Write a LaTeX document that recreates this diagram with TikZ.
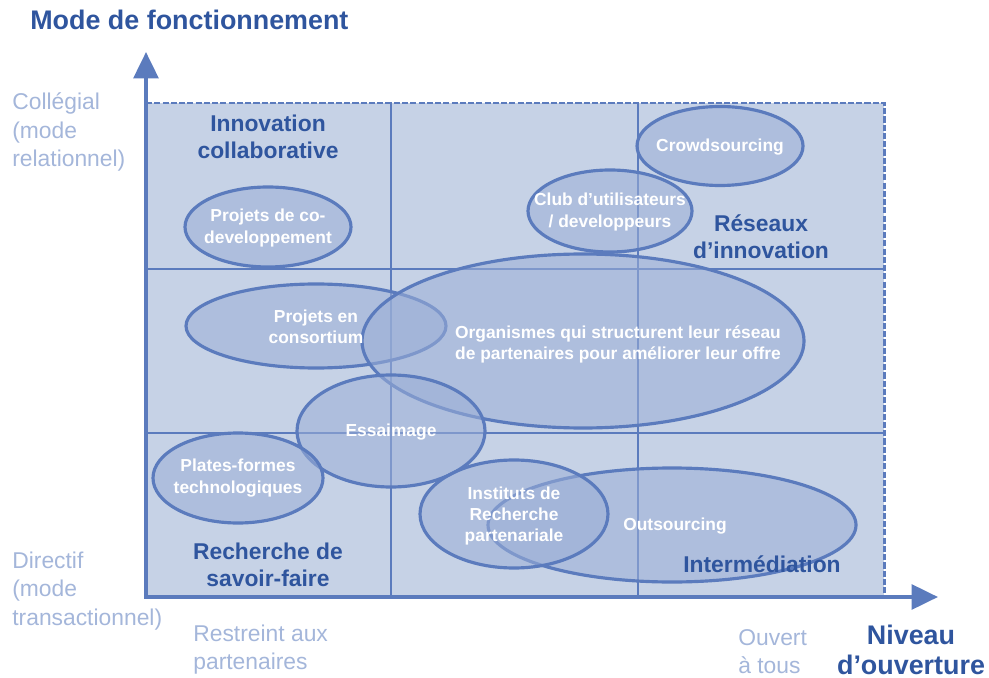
\documentclass[tikz,border=0pt]{standalone}
\usepackage{fontspec}
\setmainfont{Liberation Sans}
\usetikzlibrary{shapes.geometric,arrows.meta}
\definecolor{axeblue}{HTML}{5B7BBD}
\definecolor{darkblue}{HTML}{2F559E}
\definecolor{greyblue}{HTML}{A4B6DA}
\definecolor{cellfill}{HTML}{C6D2E6}
\definecolor{bubfill}{HTML}{9BAFD7}
\tikzset{axes/.style={draw=axeblue, line width=2.3pt, {Triangle[length=15pt,width=14pt]}-{Triangle[length=15pt,width=14pt]}}}
\tikzset{cell/.style={draw=axeblue, line width=0.9pt}}
\tikzset{border/.style={draw=axeblue, line width=1.7pt, dash pattern=on 3.5pt off 1.2pt}}
\tikzset{bubble/.style 2 args={ellipse, draw=axeblue, line width=1.8pt, fill=bubfill, fill opacity=0.55, minimum width=#1*0.02cm, minimum height=#2*0.02cm, inner sep=0pt}}
\tikzset{inside/.style={text=white, font=\fontsize{9.9}{12}\selectfont\bfseries, align=center}}
\tikzset{zone/.style={text=darkblue, font=\fontsize{13}{15.6}\selectfont\bfseries, align=center}}
\tikzset{hint/.style={text=greyblue, font=\fontsize{13}{16}\selectfont, align=left, anchor=west, inner sep=0pt}}
\tikzset{title/.style={text=darkblue, font=\fontsize{15.3}{17.5}\selectfont\bfseries, align=center}}
\begin{document}
\begin{tikzpicture}[x=0.02cm, y=-0.02cm]
\useasboundingbox (0,0) rectangle (989,678);
\coordinate (O) at (146,597);
\coordinate (NW) at (146,103);
\coordinate (NE) at (884,103);
\coordinate (SE) at (884,597);
\coordinate (ytip) at (146,52);
\coordinate (xtip) at (938,597);
\fill[cellfill] (O) rectangle (NE);
\draw[cell] (391,103) -- (391,597);
\draw[cell] (638,103) -- (638,597);
\draw[cell] (146,269) -- (884,269);
\draw[cell] (146,433) -- (884,433);
\draw[border] (NW) -- (NE) -- (SE);
\node[bubble={166}{80}] (codev) at (268,227) {};
\node[bubble={166}{79}] (crowd) at (720,146) {};
\node[bubble={164}{82}] (club) at (610,211) {};
\node[bubble={260}{84}] (consort) at (316,326) {};
\node[bubble={442}{174}] (org) at (583,341) {};
\node[bubble={188}{112}] (essai) at (391,431) {};
\node[bubble={170}{90}] (plates) at (238,478) {};
\node[bubble={368}{114}] (outsrc) at (672,525) {};
\node[bubble={188}{108}] (instit) at (514,514) {};
\draw[axes] (ytip) |- (xtip);
\node[inside] (codev-t) at (268,228) {Projets de co-\\developpement};
\node[inside] (crowd-t) at (720,147) {Crowdsourcing};
\node[inside] (club-t) at (610,212) {Club d’utilisateurs\\/ developpeurs};
\node[inside] (consort-t) at (316,327) {Projets en\\consortium};
\node[inside] (org-t) at (618,344) {Organismes qui structurent leur réseau\\de partenaires pour améliorer leur offre};
\node[inside] (essai-t) at (391,432) {Essaimage};
\node[inside] (plates-t) at (238,478) {Plates-formes\\technologiques};
\node[inside] (outsrc-t) at (675,526) {Outsourcing};
\node[inside] (instit-t) at (514,516) {Instituts de\\Recherche\\partenariale};
\node[zone] (collab) at (268,137) {Innovation\\collaborative};
\node[zone] (reseaux) at (761,237) {Réseaux\\d’innovation};
\node[zone] (savoir) at (268,565) {Recherche de\\savoir-faire};
\node[zone] (interm) at (762,564) {Intermédiation};
\node[title, anchor=west, inner sep=0pt] (ymode) at (30,20) {Mode de fonctionnement};
\node[title] (xniveau) at (911,650) {Niveau\\d’ouverture};
\node[hint] (colleg) at (12,132) {Collégial\\(mode\\relationnel)};
\node[hint] (direct) at (12,591) {Directif\\(mode\\transactionnel)};
\node[hint] (restr) at (193,650) {Restreint aux\\partenaires};
\node[hint] (ouvert) at (738,652) {Ouvert\\à tous};
\end{tikzpicture}
\end{document}
